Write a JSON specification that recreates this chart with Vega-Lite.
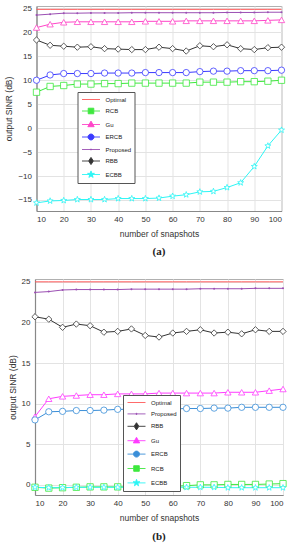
{
  "$schema": "https://vega.github.io/schema/vega-lite/v6.json",
  "padding": {"left": 4, "top": 3, "right": 4, "bottom": 4},
  "background": "white",
  "config": {
    "view": {"stroke": "#b0b0b0", "strokeWidth": 1},
    "font": "Liberation Sans",
    "axis": {"labelFont": "Liberation Sans", "labelFontSize": 8, "labelColor": "#333", "titleFont": "Liberation Sans", "titleFontSize": 8.5, "titleFontWeight": "normal", "titleColor": "#333", "ticks": false, "grid": true, "gridColor": "#e3e3e3", "domainColor": "#888", "domainWidth": 1.2, "labelPadding": 4},
    "axisY": {"titlePadding": 4, "labelPadding": 5},
    "axisX": {"titlePadding": 6},
    "legend": {"labelFont": "Liberation Sans", "labelColor": "#222"}
  },
  "datasets": {
    "a": [
      {"x":10,"Optimal":24.8,"Proposed":23.6,"Gu":21.0,"RBB":18.4,"ERCB":10.0,"RCB":7.5,"ECBB":-15.6},
      {"x":15,"Optimal":24.8,"Proposed":23.8,"Gu":21.7,"RBB":17.3,"ERCB":11.1,"RCB":8.7,"ECBB":-15.2},
      {"x":20,"Optimal":24.8,"Proposed":24.0,"Gu":22.1,"RBB":17.1,"ERCB":11.4,"RCB":8.9,"ECBB":-15.1},
      {"x":25,"Optimal":24.8,"Proposed":24.0,"Gu":22.2,"RBB":16.9,"ERCB":11.4,"RCB":9.2,"ECBB":-14.9},
      {"x":30,"Optimal":24.8,"Proposed":24.05,"Gu":22.2,"RBB":17.0,"ERCB":11.4,"RCB":9.2,"ECBB":-14.9},
      {"x":35,"Optimal":24.8,"Proposed":24.05,"Gu":22.2,"RBB":16.6,"ERCB":11.5,"RCB":9.3,"ECBB":-14.9},
      {"x":40,"Optimal":24.8,"Proposed":24.05,"Gu":22.2,"RBB":16.5,"ERCB":11.5,"RCB":9.3,"ECBB":-14.7},
      {"x":45,"Optimal":24.8,"Proposed":24.1,"Gu":22.2,"RBB":16.4,"ERCB":11.5,"RCB":9.4,"ECBB":-14.7},
      {"x":50,"Optimal":24.8,"Proposed":24.1,"Gu":22.3,"RBB":16.4,"ERCB":11.6,"RCB":9.4,"ECBB":-14.7},
      {"x":55,"Optimal":24.8,"Proposed":24.1,"Gu":22.3,"RBB":16.9,"ERCB":11.6,"RCB":9.4,"ECBB":-14.6},
      {"x":60,"Optimal":24.8,"Proposed":24.1,"Gu":22.3,"RBB":16.6,"ERCB":11.6,"RCB":9.4,"ECBB":-14.2},
      {"x":65,"Optimal":24.8,"Proposed":24.1,"Gu":22.4,"RBB":16.1,"ERCB":11.6,"RCB":9.4,"ECBB":-13.9},
      {"x":70,"Optimal":24.8,"Proposed":24.1,"Gu":22.4,"RBB":17.2,"ERCB":11.8,"RCB":9.6,"ECBB":-13.3},
      {"x":75,"Optimal":24.8,"Proposed":24.1,"Gu":22.4,"RBB":17.0,"ERCB":11.9,"RCB":9.6,"ECBB":-13.2},
      {"x":80,"Optimal":24.8,"Proposed":24.15,"Gu":22.4,"RBB":17.4,"ERCB":11.9,"RCB":9.6,"ECBB":-12.4},
      {"x":85,"Optimal":24.8,"Proposed":24.15,"Gu":22.4,"RBB":16.6,"ERCB":12.0,"RCB":9.7,"ECBB":-11.4},
      {"x":90,"Optimal":24.8,"Proposed":24.15,"Gu":22.4,"RBB":16.4,"ERCB":12.0,"RCB":9.7,"ECBB":-8.0},
      {"x":95,"Optimal":24.8,"Proposed":24.2,"Gu":22.5,"RBB":16.8,"ERCB":12.0,"RCB":9.8,"ECBB":-3.7},
      {"x":100,"Optimal":24.8,"Proposed":24.2,"Gu":22.6,"RBB":16.9,"ERCB":12.1,"RCB":10.0,"ECBB":-0.4}
    ],
    "b": [
      {"x":10,"Optimal":25.0,"Proposed":23.7,"RBB":20.7,"Gu":8.4,"ERCB":8.0,"RCB":-0.3,"ECBB":-0.3},
      {"x":15,"Optimal":25.0,"Proposed":23.8,"RBB":20.4,"Gu":10.6,"ERCB":9.0,"RCB":-0.4,"ECBB":-0.35},
      {"x":20,"Optimal":25.0,"Proposed":24.0,"RBB":19.4,"Gu":10.9,"ERCB":9.05,"RCB":-0.35,"ECBB":-0.35},
      {"x":25,"Optimal":25.0,"Proposed":24.05,"RBB":19.8,"Gu":11.0,"ERCB":9.15,"RCB":-0.3,"ECBB":-0.3},
      {"x":30,"Optimal":25.0,"Proposed":24.05,"RBB":19.6,"Gu":11.1,"ERCB":9.15,"RCB":-0.25,"ECBB":-0.3},
      {"x":35,"Optimal":25.0,"Proposed":24.05,"RBB":18.8,"Gu":11.1,"ERCB":9.2,"RCB":-0.25,"ECBB":-0.3},
      {"x":40,"Optimal":25.0,"Proposed":24.05,"RBB":18.9,"Gu":11.2,"ERCB":9.3,"RCB":-0.25,"ECBB":-0.3},
      {"x":45,"Optimal":25.0,"Proposed":24.1,"RBB":19.2,"Gu":11.2,"ERCB":9.3,"RCB":-0.25,"ECBB":-0.3},
      {"x":50,"Optimal":25.0,"Proposed":24.1,"RBB":18.4,"Gu":11.2,"ERCB":9.3,"RCB":-0.25,"ECBB":-0.3},
      {"x":55,"Optimal":25.0,"Proposed":24.1,"RBB":18.2,"Gu":11.3,"ERCB":9.35,"RCB":-0.25,"ECBB":-0.3},
      {"x":60,"Optimal":25.0,"Proposed":24.1,"RBB":18.7,"Gu":11.3,"ERCB":9.35,"RCB":-0.2,"ECBB":-0.3},
      {"x":65,"Optimal":25.0,"Proposed":24.1,"RBB":18.9,"Gu":11.3,"ERCB":9.4,"RCB":-0.1,"ECBB":-0.3},
      {"x":70,"Optimal":25.0,"Proposed":24.15,"RBB":19.1,"Gu":11.3,"ERCB":9.4,"RCB":0.0,"ECBB":-0.3},
      {"x":75,"Optimal":25.0,"Proposed":24.15,"RBB":18.7,"Gu":11.3,"ERCB":9.45,"RCB":0.0,"ECBB":-0.3},
      {"x":80,"Optimal":25.0,"Proposed":24.15,"RBB":18.8,"Gu":11.4,"ERCB":9.45,"RCB":0.05,"ECBB":-0.35},
      {"x":85,"Optimal":25.0,"Proposed":24.15,"RBB":18.6,"Gu":11.4,"ERCB":9.55,"RCB":0.05,"ECBB":-0.35},
      {"x":90,"Optimal":25.0,"Proposed":24.2,"RBB":19.1,"Gu":11.4,"ERCB":9.55,"RCB":0.05,"ECBB":-0.35},
      {"x":95,"Optimal":25.0,"Proposed":24.2,"RBB":18.9,"Gu":11.6,"ERCB":9.55,"RCB":0.1,"ECBB":-0.35},
      {"x":100,"Optimal":25.0,"Proposed":24.2,"RBB":18.9,"Gu":11.8,"ERCB":9.55,"RCB":0.15,"ECBB":-0.35}
    ]
  },
  "bounds": "flush",
  "center": true,
  "spacing": 68,
  "resolve": {"scale": {"color": "independent", "shape": "independent", "x": "independent", "y": "independent"}, "legend": {"color": "independent"}},
  "vconcat": [
    {
      "width": 245, "height": 205,
      "data": {"name": "a"},
      "transform": [{"fold": ["Optimal","RCB","Gu","ERCB","Proposed","RBB","ECBB"], "as": ["m","y"]}],
      "title": {"text": "(a)", "orient": "bottom", "font": "Liberation Serif", "fontSize": 11, "fontWeight": "bold", "color": "#222", "offset": 8},
      "encoding": {
        "x": {"field": "x", "type": "quantitative", "scale": {"domain": [10, 100], "nice": false}, "axis": {"values": [10,20,30,40,50,60,70,80,90,100], "title": "number of snapshots"}},
        "y": {"field": "y", "type": "quantitative", "scale": {"domain": [-17.3, 25.5], "nice": false, "zero": false}, "axis": {"values": [-15,-10,-5,0,5,10,15,20,25], "title": "output SINR (dB)"}},
        "color": {"field": "m", "type": "nominal",
          "scale": {"domain": ["Optimal","RCB","Gu","ERCB","Proposed","RBB","ECBB"], "range": ["#ff5a5a","#3ee83e","#ff45c8","#3a3aff","#9b4fb3","#333333","#2ef5f5"]},
          "legend": {"orient": "none", "legendX": 41, "legendY": 86, "title": null, "symbolSize": 64, "symbolFillColor": "white", "symbolStrokeWidth": 0.9, "symbolOpacity": 1, "labelFontSize": 6, "padding": 3, "rowPadding": 2.5, "strokeColor": "#555", "fillColor": "white", "symbolOffset": 6, "labelOffset": 10,
            "encode": {"symbols": {"update": {
              "shape": {"signal": "datum.value === 'Optimal' ? 'M-2.25,0H2.25' : datum.value === 'RCB' ? 'M-2.25,0H-0.7M0.7,0H2.25M-0.7,-0.7H0.7V0.7H-0.7Z' : datum.value === 'Gu' ? 'M-2.25,0H2.25M0,-0.85L0.8,0.55H-0.8Z' : datum.value === 'ERCB' ? 'M-2.25,0H-0.75M0.75,0H2.25M0.75,0A0.75,0.75,0,1,1,-0.75,0A0.75,0.75,0,1,1,0.75,0Z' : datum.value === 'Proposed' ? 'M-2.25,0H2.25M0.15,0A0.15,0.15,0,1,1,-0.15,0A0.15,0.15,0,1,1,0.15,0Z' : datum.value === 'RBB' ? 'M-2.25,0H-0.6M0.6,0H2.25M0,-0.9L0.6,0L0,0.9L-0.6,0Z' : 'M-2.25,0H2.25M0,-0.9L0.21,-0.29L0.86,-0.28L0.34,0.11L0.53,0.73L0,0.36L-0.53,0.73L-0.34,0.11L-0.86,-0.28L-0.21,-0.29Z'"}}}}}
        }
      },
      "layer": [
        {"mark": {"type": "line", "strokeWidth": 1}},
        {"transform": [{"filter": "datum.m !== 'Optimal' && datum.m !== 'Proposed'"}],
         "mark": {"type": "point", "filled": false, "fill": "white", "fillOpacity": 1, "size": 40, "strokeWidth": 0.8, "opacity": 1},
         "encoding": {"shape": {"field": "m", "type": "nominal", "legend": null,
           "scale": {"domain": ["RCB","Gu","ERCB","RBB","ECBB"], "range": ["square","triangle-up","circle","diamond","M0,-1L0.24,-0.33L0.95,-0.31L0.38,0.12L0.59,0.81L0,0.4L-0.59,0.81L-0.38,0.12L-0.95,-0.31L-0.24,-0.33Z"]}}}},
        {"transform": [{"filter": "datum.m === 'Proposed'"}],
         "mark": {"type": "point", "filled": true, "size": 4, "opacity": 1}}
      ]
    },
    {
      "width": 248, "height": 216,
      "data": {"name": "b"},
      "transform": [{"fold": ["Optimal","Proposed","RBB","Gu","ERCB","RCB","ECBB"], "as": ["m","y"]}],
      "title": {"text": "(b)", "orient": "bottom", "font": "Liberation Serif", "fontSize": 11, "fontWeight": "bold", "color": "#222", "offset": 9},
      "encoding": {
        "x": {"field": "x", "type": "quantitative", "scale": {"domain": [10, 100], "nice": false}, "axis": {"values": [10,20,30,40,50,60,70,80,90,100], "title": "number of snapshots"}},
        "y": {"field": "y", "type": "quantitative", "scale": {"domain": [-1.25, 25.35], "nice": false, "zero": false}, "axis": {"values": [0,5,10,15,20,25], "title": "output SINR (dB)"}},
        "color": {"field": "m", "type": "nominal",
          "scale": {"domain": ["Optimal","Proposed","RBB","Gu","ERCB","RCB","ECBB"], "range": ["#ff5a5a","#9b4fb3","#333333","#ff3cff","#3a8ed8","#3ee83e","#2ef5f5"]},
          "legend": {"orient": "none", "legendX": 88, "legendY": 116, "title": null, "symbolSize": 64, "symbolFillColor": "white", "symbolStrokeWidth": 0.9, "symbolOpacity": 1, "labelFontSize": 6, "padding": 3, "rowPadding": 3.4, "strokeColor": "#555", "fillColor": "white", "symbolOffset": 6, "labelOffset": 10,
            "encode": {"symbols": {"update": {
              "shape": {"signal": "datum.value === 'Optimal' ? 'M-2.25,0H2.25' : datum.value === 'RCB' ? 'M-2.25,0H-0.7M0.7,0H2.25M-0.7,-0.7H0.7V0.7H-0.7Z' : datum.value === 'Gu' ? 'M-2.25,0H2.25M0,-0.85L0.8,0.55H-0.8Z' : datum.value === 'ERCB' ? 'M-2.25,0H-0.75M0.75,0H2.25M0.75,0A0.75,0.75,0,1,1,-0.75,0A0.75,0.75,0,1,1,0.75,0Z' : datum.value === 'Proposed' ? 'M-2.25,0H2.25M0.15,0A0.15,0.15,0,1,1,-0.15,0A0.15,0.15,0,1,1,0.15,0Z' : datum.value === 'RBB' ? 'M-2.25,0H-0.6M0.6,0H2.25M0,-0.9L0.6,0L0,0.9L-0.6,0Z' : 'M-2.25,0H2.25M0,-0.9L0.21,-0.29L0.86,-0.28L0.34,0.11L0.53,0.73L0,0.36L-0.53,0.73L-0.34,0.11L-0.86,-0.28L-0.21,-0.29Z'"}}}}}
        }
      },
      "layer": [
        {"mark": {"type": "line", "strokeWidth": 1}},
        {"transform": [{"filter": "datum.m !== 'Optimal' && datum.m !== 'Proposed'"}],
         "mark": {"type": "point", "filled": false, "fill": "white", "fillOpacity": 1, "size": 40, "strokeWidth": 0.8, "opacity": 1},
         "encoding": {"shape": {"field": "m", "type": "nominal", "legend": null,
           "scale": {"domain": ["RBB","Gu","ERCB","RCB","ECBB"], "range": ["diamond","triangle-up","circle","square","M0,-1L0.24,-0.33L0.95,-0.31L0.38,0.12L0.59,0.81L0,0.4L-0.59,0.81L-0.38,0.12L-0.95,-0.31L-0.24,-0.33Z"]}}}},
        {"transform": [{"filter": "datum.m === 'Proposed'"}],
         "mark": {"type": "point", "filled": true, "size": 4, "opacity": 1}}
      ]
    }
  ]
}
